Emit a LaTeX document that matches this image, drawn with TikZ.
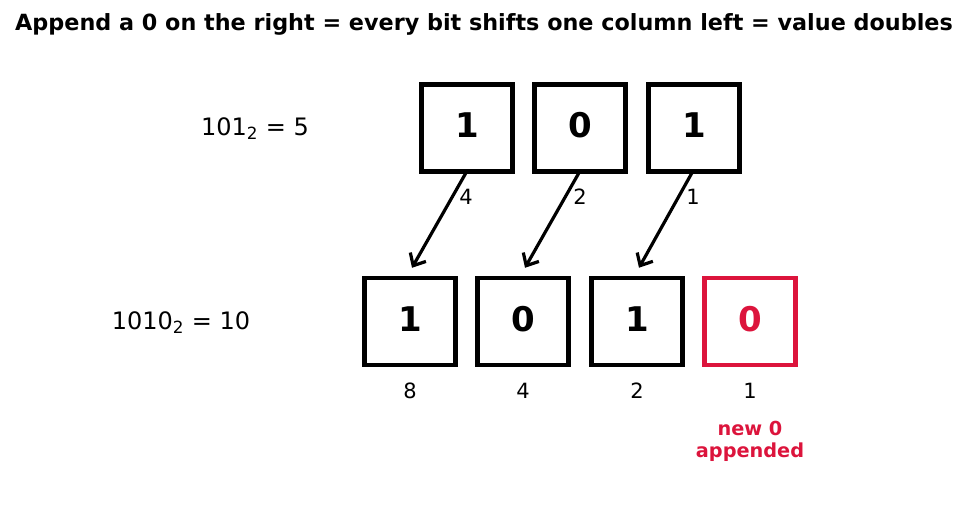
\documentclass[tikz,border=0pt]{standalone}
\usepackage{fontspec}
\setmainfont{DejaVu Sans}
\usetikzlibrary{arrows.meta}
\definecolor{crim}{RGB}{220,20,60}
\tikzset{
  bitbox/.style={draw, line width=4.5pt, minimum width=91pt, minimum height=87pt, inner sep=0pt},
  digit/.style={font=\fontsize{34}{36}\selectfont\bfseries, inner sep=0pt},
  arr/.style={line width=3.2pt, -{Straight Barb[length=10pt,width=18pt,line width=3.2pt]}},
  wlab/.style={font=\fontsize{21}{24}\selectfont, inner sep=0pt},
  eqlab/.style={font=\fontsize{24}{28}\selectfont, inner sep=0pt},
}
\begin{document}
\begin{tikzpicture}[x=1pt,y=-1pt]
\useasboundingbox (0,0) rectangle (967,508);
\node[font=\fontsize{22.3}{26}\selectfont\bfseries, inner sep=0pt] (title) at (484,24) {Append a 0 on the right = every bit shifts one column left = value doubles};
\node[eqlab] (eqa) at (255,128.5) {101\textsubscript{2} = 5};
\node[eqlab] (eqb) at (181,322.5) {1010\textsubscript{2} = 10};
\node[bitbox] (t1) at (467,128) {};
\node[bitbox] (t2) at (580,128) {};
\node[bitbox] (t3) at (694,128) {};
\node[bitbox] (b1) at (410,321.5) {};
\node[bitbox] (b2) at (523,321.5) {};
\node[bitbox] (b3) at (637,321.5) {};
\node[bitbox, draw=crim] (b4) at (750,321.5) {};
\node[digit] (dt1) at ([yshift=2.5pt]t1.center) {1};
\node[digit] (dt2) at ([yshift=2.5pt]t2.center) {0};
\node[digit] (dt3) at ([yshift=2.5pt]t3.center) {1};
\node[digit] (db1) at ([yshift=2.5pt]b1.center) {1};
\node[digit] (db2) at ([yshift=2.5pt]b2.center) {0};
\node[digit] (db3) at ([yshift=2.5pt]b3.center) {1};
\node[digit, text=crim] (db4) at ([yshift=2.5pt]b4.center) {0};
\draw[arr] ([xshift=-1pt,yshift=1pt]t1.south) -- ([xshift=2pt,yshift=8pt]b1.north);
\draw[arr] ([xshift=-1pt,yshift=1pt]t2.south) -- ([xshift=2pt,yshift=8pt]b2.north);
\draw[arr] ([xshift=-2pt,yshift=1pt]t3.south) -- ([xshift=2pt,yshift=8pt]b3.north);
\node[wlab] (w4) at (466,197) {4};
\node[wlab] (w2) at (580,197) {2};
\node[wlab] (w1) at (693,197) {1};
\node[wlab] (v8) at (410,391) {8};
\node[wlab] (v4) at (523,391) {4};
\node[wlab] (v2) at (637,391) {2};
\node[wlab] (v1) at (750,391) {1};
\node[font=\fontsize{19.3}{22}\selectfont\bfseries, text=crim, align=center, inner sep=0pt] (note) at (750,441) {new 0\\appended};
\end{tikzpicture}
\end{document}
